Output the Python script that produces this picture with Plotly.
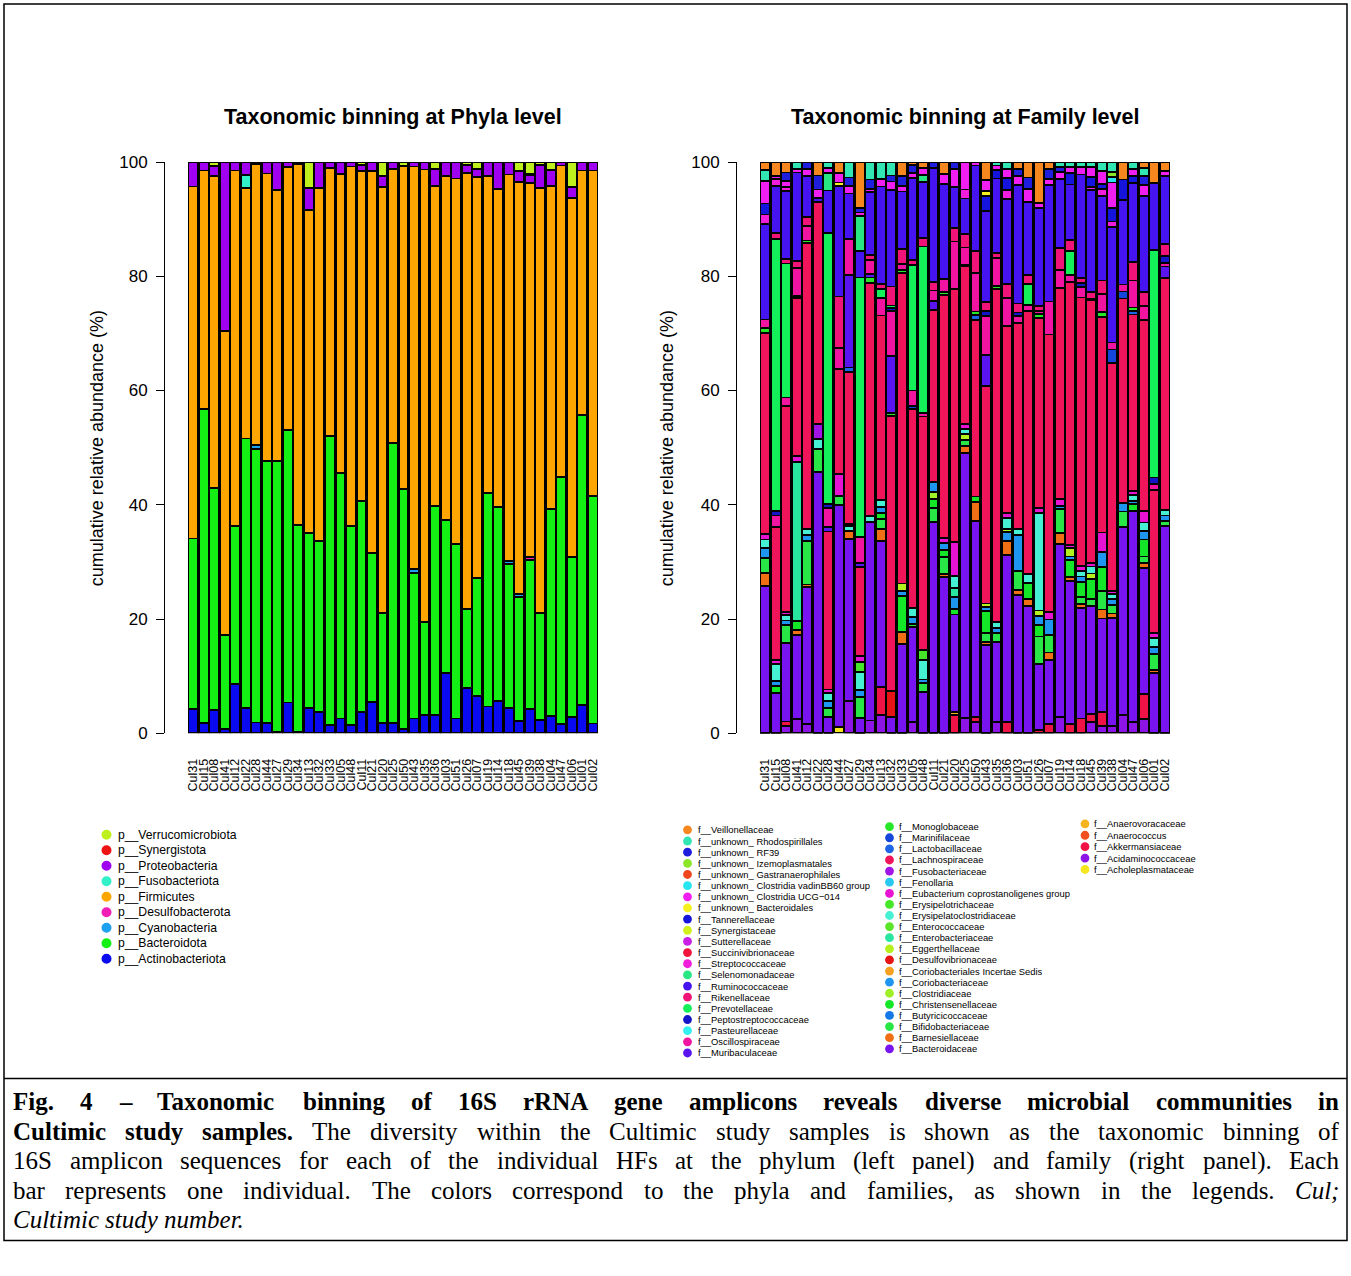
import plotly.graph_objects as go

W, H = 1351, 1276

# vertical calibration of the page: rendered_y = SY_OFF + SY_SCALE * y
SY_OFF, SY_SCALE = 9.06, 0.9846


def px(x):
    return x / W


def py(y):
    return 1 - ((y - SY_OFF) / SY_SCALE) / H


# ---------------------------------------------------------------- data
samples = ["Cul31", "Cul15", "Cul08", "Cul41", "Cul12", "Cul22", "Cul28", "Cul44", "Cul27", "Cul29",
           "Cul34", "Cul13", "Cul32", "Cul33", "Cul05", "Cul48", "Cul11", "Cul21", "Cul20", "Cul25",
           "Cul50", "Cul43", "Cul35", "Cul36", "Cul03", "Cul51", "Cul26", "Cul07", "Cul19", "Cul14",
           "Cul18", "Cul45", "Cul39", "Cul38", "Cul04", "Cul47", "Cul06", "Cul01", "Cul02"]

# ---- phyla (%), one value per sample
p_Actinobacteriota = [4.3, 1.8, 4.1, 0.8, 8.7, 4.5, 1.9, 1.8, 0.2, 5.4,
                      0.2, 4.5, 3.7, 1.5, 2.6, 1.5, 3.8, 5.5, 1.8, 1.8,
                      0.8, 2.6, 3.2, 3.2, 10.6, 2.6, 7.9, 6.5, 4.7, 5.7,
                      4.5, 2.2, 4.2, 2.3, 3.0, 1.6, 2.8, 5.0, 1.7]
p_Bacteroidota = [29.8, 54.9, 38.8, 16.4, 27.6, 47.1, 47.9, 45.9, 47.4, 47.7,
                  36.3, 30.6, 29.9, 50.5, 43.0, 34.8, 36.8, 26.1, 19.2, 49.0,
                  41.9, 25.4, 16.3, 36.6, 26.8, 30.5, 13.8, 20.7, 37.3, 33.9,
                  25.1, 21.7, 26.2, 18.8, 36.2, 43.3, 28.1, 50.7, 39.8]
p_Cyanobacteria = [0, 0, 0, 0, 0, 0, 0.6, 0, 0, 0,
                   0, 0, 0, 0, 0, 0, 0, 0, 0, 0,
                   0, 0.7, 0, 0, 0, 0, 0, 0, 0, 0,
                   0.5, 0.5, 0, 0, 0, 0, 0, 0, 0]
p_Desulfobacterota = [0, 0, 0, 0, 0, 0, 0, 0, 0, 0,
                      0, 0, 0, 0, 0, 0, 0, 0, 0, 0,
                      0, 0, 0, 0, 0, 0, 0, 0, 0, 0,
                      0, 0, 0.4, 0, 0, 0, 0, 0, 0]
p_Firmicutes = [61.6, 41.8, 54.6, 53.2, 62.2, 43.8, 49.2, 50.3, 47.5, 46.0,
                63.2, 56.5, 61.9, 46.9, 52.3, 62.9, 57.8, 66.8, 74.6, 48.0,
                56.6, 70.5, 79.2, 56.0, 60.1, 64.0, 76.4, 70.2, 55.5, 55.7,
                67.7, 72.1, 65.5, 74.4, 56.6, 54.5, 62.8, 42.8, 57.0]
p_Fusobacteriota = [0, 0, 0, 0, 0, 2.3, 0, 0, 0, 0,
                    0, 0, 0, 0, 0, 0, 0, 0, 0, 0,
                    0, 0, 0, 0, 0, 0, 0, 0, 0, 0,
                    0, 0, 0, 0, 0, 0, 0, 0, 0]
p_Proteobacteria = [4.3, 1.5, 1.8, 29.6, 1.5, 2.3, 0.4, 2.0, 4.9, 0.9,
                    0.3, 3.8, 4.5, 1.1, 2.1, 0.8, 1.1, 1.6, 1.9, 1.2,
                    0, 0.8, 1.3, 3.0, 2.5, 2.9, 1.4, 1.4, 2.5, 4.7,
                    2.2, 1.9, 1.4, 4.0, 2.8, 0.6, 1.9, 1.5, 1.5]
p_Synergistota = [0, 0, 0, 0, 0, 0, 0, 0, 0, 0,
                  0, 0, 0, 0, 0, 0, 0, 0, 0, 0,
                  0, 0, 0, 0, 0, 0, 0, 0, 0, 0,
                  0, 0, 0.3, 0, 0, 0, 0, 0, 0]
p_Verrucomicrobiota = [0, 0, 0.7, 0, 0, 0, 0, 0, 0, 0,
                       0, 4.6, 0, 0, 0, 0, 0.5, 0, 2.5, 0,
                       0.7, 0, 0, 1.2, 0, 0, 0.5, 1.2, 0, 0,
                       0, 1.6, 2.0, 0.5, 1.4, 0, 4.4, 0, 0]

# legend order (top -> bottom); stacking is the reverse
phyla_names = ["p__Verrucomicrobiota", "p__Synergistota", "p__Proteobacteria", "p__Fusobacteriota",
               "p__Firmicutes", "p__Desulfobacterota", "p__Cyanobacteria", "p__Bacteroidota",
               "p__Actinobacteriota"]
phyla_values = [p_Verrucomicrobiota, p_Synergistota, p_Proteobacteria, p_Fusobacteriota,
                p_Firmicutes, p_Desulfobacterota, p_Cyanobacteria, p_Bacteroidota,
                p_Actinobacteriota]
phyla_colors = ["#BEF01E", "#EE1414", "#A000F0", "#32F0C8", "#FFA500", "#F01EB4", "#1EA0F0",
                "#14F014", "#0A0AF0"]

# ---- families (%), one value per sample
f_Veillonellaceae = [1.4, 2.4, 1.8, 0, 0, 2.3, 0, 1.8, 0, 7.6,
                     0, 0, 0, 2.3, 0.5, 1.0, 0, 2.0, 0, 0,
                     0, 2.9, 0, 0, 1.2, 2.6, 6.9, 1.2, 0, 0,
                     0, 0, 0, 0, 3.0, 0, 1.0, 3.5, 1.5]
f_unk_Rhodospirillales = [1.9, 0, 0, 1.2, 0, 0, 1.0, 0, 2.6, 0,
                          3.0, 2.9, 2.3, 0, 0, 0, 0, 0, 0, 0,
                          0, 0, 0.6, 1.2, 0, 0, 0, 0, 0.9, 0.9,
                          0.9, 0.9, 1.5, 1.7, 0, 1.2, 1.5, 0, 0]
f_unk_RF39 = [0, 0, 1.5, 0, 1.2, 2.4, 0, 0, 1.4, 0.8,
              1.6, 0, 1.0, 1.7, 1.3, 0, 1.0, 0, 1.2, 0,
              0, 0, 0, 0, 1.2, 2.0, 0, 1.7, 0.8, 0,
              0, 0, 0, 0, 0, 0, 1.5, 0, 0]
f_unk_Izemoplasmatales = [0, 0, 0, 0, 0, 0, 0, 0, 0, 0,
                          0, 0, 0, 0, 0, 0, 0, 0, 0, 0,
                          0, 0, 0, 0, 0, 0, 0, 0, 0, 0,
                          0, 0, 0, 0.9, 0, 0, 0, 0, 0]
f_unk_Gastranaerophilales = [0, 0, 0, 0, 0, 0, 0, 0, 0, 0,
                             0, 0, 0, 0, 0, 0, 0, 0, 0, 0,
                             0, 0, 0, 0, 0, 0, 0, 0, 0, 0,
                             0, 0, 0, 0, 0, 0, 0, 0, 0]
f_unk_vadinBB60 = [0, 0, 0, 0, 0, 0, 0, 0, 0, 0,
                   0, 0, 0, 0, 0, 0, 0, 0, 0, 0,
                   0, 0, 0, 0, 0, 0, 0, 0, 0, 0,
                   0, 0, 0, 0.9, 0, 0, 0, 0, 0]
f_unk_UCG014 = [3.8, 0.6, 1.0, 0.6, 1.2, 1.4, 0.9, 1.6, 1.3, 0,
                0.6, 1.2, 1.5, 0.9, 0.9, 1.2, 0, 1.8, 3.0, 4.6,
                0.6, 1.8, 0.7, 1.5, 1.5, 2.2, 0.9, 0.9, 1.2, 0.9,
                1.2, 1.7, 2.1, 4.4, 0, 1.2, 2.0, 0, 0.9]
f_unk_Bacteroidales = [0, 0, 0, 0, 0, 0, 0, 0.6, 0, 0,
                       0, 0, 0, 0, 0, 0, 0, 0, 0, 0,
                       0, 0.9, 0, 0, 0, 0, 0, 0, 0, 0,
                       0, 0, 0, 0, 0, 0, 0, 0, 0]
f_Tannerellaceae = [1.9, 0, 0, 0, 0, 0, 0, 0, 0, 0,
                    0, 0, 0, 0, 0, 0, 0, 0, 0, 0,
                    0, 2.4, 1.5, 2.0, 0, 0, 0, 0, 0, 2.0,
                    0, 1.7, 0.9, 2.3, 3.5, 1.2, 0, 0, 0]
f_Synergistaceae = [0, 0, 0, 0, 0, 0, 0, 0, 0, 0,
                    0, 0, 0, 0, 0, 0, 0, 0, 0, 0,
                    0, 0, 0, 0, 0, 0, 0, 0, 0, 0,
                    0, 0, 0, 0, 0, 0, 0, 0, 0]
f_Sutterellaceae = [0, 0, 0, 0, 0, 0, 0, 0, 0, 0,
                    0, 0, 0, 0, 0, 0, 0, 0, 0, 0,
                    0, 0, 0, 0, 0, 0, 0, 0, 0, 0,
                    0, 0, 0, 0, 0, 0, 0, 0, 0]
f_Succinivibrionaceae = [0, 0, 0, 0, 0, 0, 0, 0, 0, 0,
                         0, 0, 0, 0, 0, 0, 0, 0, 0, 0,
                         0, 0, 0, 0, 0, 0, 0, 0, 0, 0,
                         0, 0, 0, 0, 0, 0, 0, 0, 0]
f_Streptococcaceae = [1.6, 1.2, 0.6, 0, 0, 0, 0, 0, 0, 0.6,
                      0, 0, 0, 0, 0, 0, 0, 0, 0, 1.5,
                      0, 0, 0, 1.5, 0, 0, 0, 0, 0, 0,
                      0, 0.6, 1.2, 0.9, 0, 0, 0, 0, 0]
f_Selenomonadaceae = [0, 0, 0, 0, 0, 0, 2.9, 0, 0, 5.8,
                      0, 0, 0, 0, 0, 1.2, 0, 0, 0, 0,
                      0, 0, 0, 0, 0, 0, 0, 0, 0, 0,
                      0, 0, 0, 0, 0, 0, 0, 0, 0]
f_Ruminococcaceae = [16.4, 8.1, 11.6, 15.1, 6.9, 0.7, 7.2, 18.4, 7.6, 4.4,
                     10.8, 16.3, 16.3, 9.5, 13.9, 9.3, 19.3, 16.3, 6.7, 5.9,
                     14.4, 14.9, 12.6, 14.1, 19.9, 12.2, 16.6, 19.5, 11.9, 9.4,
                     17.5, 17.6, 14.0, 19.8, 14.5, 13.7, 17.0, 11.4, 11.7]
f_Rikenellaceae = [0, 1.0, 0.8, 1.2, 1.5, 0, 0, 8.5, 0, 0,
                   0.9, 0.9, 3.2, 2.5, 0.9, 1.4, 1.5, 0, 2.3, 2.3,
                   3.8, 1.6, 0.8, 2.3, 1.5, 1.6, 0.8, 0, 3.8, 1.8,
                   0.9, 1.2, 2.3, 0, 0, 3.2, 2.5, 0, 2.0]
f_Prevotellaceae = [0, 46.9, 22.8, 0, 0, 0, 45.8, 0, 0, 43.1,
                    0, 1.5, 0.5, 0, 21.3, 27.8, 0, 0, 0, 0,
                    0, 0, 0, 0, 0, 3.5, 0, 0, 0, 4.1,
                    0, 0, 0, 0, 0, 0, 0, 38.6, 0]
f_Peptostreptococcaceae = [0, 0.8, 0, 0, 0, 0, 0.6, 0, 0, 0,
                           0, 0, 0.5, 0, 0, 0, 0, 0, 0, 0,
                           0, 0.8, 0, 0, 0.6, 0, 0, 0, 0, 0,
                           0.6, 0, 0, 0, 0, 0, 0, 1.1, 1.2]
f_Pasteurellaceae = [0, 0, 0, 0, 0, 0, 0, 0, 0, 0,
                     0, 0, 0, 0, 0, 0, 0, 0, 0, 0,
                     0, 0, 0, 0, 0, 0, 0, 0, 0, 0,
                     0, 0, 0, 0, 0, 0, 0, 0, 0]
f_Oscillospiraceae = [1.5, 2.0, 1.5, 4.7, 2.5, 0, 3.2, 3.5, 6.1, 4.4,
                      2.4, 2.9, 7.6, 1.0, 2.6, 0.6, 1.8, 2.3, 7.9, 2.9,
                      6.5, 6.4, 4.7, 4.7, 1.2, 1.0, 0.6, 5.5, 3.0, 1.2,
                      1.8, 0, 2.9, 1.2, 1.2, 4.7, 2.5, 1.0, 0.6]
f_Muribaculaceae = [0, 0, 0, 0, 0, 0, 0.8, 0, 15.5, 0.7,
                    0.6, 0, 9.6, 0, 0, 0, 1.5, 0, 0, 0,
                    0, 5.0, 0, 0, 0, 0, 0, 0, 0, 0,
                    0, 0, 0, 0, 0, 0, 0, 0, 2.0]
f_Monoglobaceae = [0.8, 0, 0, 0.4, 0.4, 0, 0, 0, 0, 0,
                   0.9, 0, 0.6, 0.6, 0, 0, 0, 0.5, 0, 0.3,
                   0.6, 0, 0.6, 0, 0, 0, 0.6, 0, 0, 0,
                   0, 0.3, 0.9, 0, 0, 0.6, 0, 0, 0]
f_Marinifilaceae = [0, 0, 0, 0, 0, 0, 0, 0, 0, 0,
                    0, 0, 0, 0, 0.6, 0, 0, 0, 0, 0,
                    0, 0, 0, 0, 0, 0, 0, 0, 0, 0,
                    0, 0, 0, 2.3, 1.2, 0, 0, 0, 0]
f_Lactobacillaceae = [0, 0, 0, 0, 0, 0, 0, 0, 0.7, 0,
                      0, 0, 0, 0, 0, 0, 0, 0, 0, 0,
                      0.9, 0, 0, 0, 0, 0, 0, 0, 0, 0,
                      0, 0, 0, 0, 0, 0.6, 0, 0, 0]
f_Lachnospiraceae = [34.4, 23.0, 35.0, 26.9, 48.5, 38.0, 26.7, 17.5, 25.5, 14.7,
                     40.3, 30.9, 46.5, 51.6, 33.7, 39.0, 29.2, 41.8, 42.0, 26.3,
                     29.8, 35.7, 56.3, 31.0, 34.6, 44.3, 32.2, 46.4, 36.3, 44.4,
                     45.4, 45.5, 35.8, 39.0, 35.0, 30.5, 33.8, 24.3, 39.7]
f_Fusobacteriaceae = [0, 0, 0, 0, 0, 2.5, 0, 0, 0, 0,
                      0, 0, 0, 0, 0, 0, 0, 0, 0, 0,
                      0, 0, 0, 0, 0, 0, 0, 0, 0, 0,
                      0, 0, 0, 0, 0, 0, 0, 0, 0]
f_Fenollaria = [0, 0, 0, 0, 0, 0, 0, 0, 0, 0,
                0, 0, 0, 0, 0, 0, 0, 0, 0, 0,
                0, 0, 0, 0, 0, 0, 0, 0, 0, 0,
                0, 0, 0, 0, 0, 0, 0, 0, 0]
f_Eubacterium = [1.0, 0.6, 0.5, 1.0, 0, 0, 0.6, 3.7, 0.4, 1.0,
                 0, 0, 0, 0, 0, 0, 0, 0.9, 5.6, 0.9,
                 0, 0, 0, 0.8, 0, 0, 0.9, 1.2, 1.2, 0.5,
                 0.9, 0.6, 3.2, 0.6, 0, 0.8, 2.0, 0.9, 0]
f_Erysipelotrichaceae = [0, 0, 0, 0, 0, 0, 0, 0, 0, 1.7,
                         0, 0, 0, 0, 0, 1.7, 0, 0, 0, 0,
                         0, 0, 0, 0, 0, 0, 0, 0, 0, 0,
                         0, 0, 0, 0, 0, 0, 0, 0, 0]
f_Erysipelatoclostridiaceae = [1.5, 3.0, 1.0, 0, 1.0, 1.7, 1.3, 0, 0.8, 3.0,
                               1.0, 1.2, 0, 0, 1.5, 3.2, 0, 0, 2.0, 0.8,
                               0, 0, 1.0, 1.8, 1.0, 1.5, 16.5, 0, 0, 0,
                               0.9, 1.2, 0, 0.8, 0, 1.0, 1.5, 1.5, 0.9]
f_Enterococcaceae = [0, 0, 0, 0, 0, 0, 0, 0, 0, 0,
                     0, 0, 0, 0, 0, 0, 0, 0, 0, 0,
                     0, 0, 0, 0, 0, 0, 0, 0, 0, 0,
                     0, 0, 0, 0, 0, 0, 0, 0, 0]
f_Enterobacteriaceae = [0, 0, 0, 27.2, 0, 0, 0, 0, 0, 0,
                        0, 0, 0, 0, 0, 0, 0, 0, 1.5, 0,
                        0, 0, 0, 0, 0, 0, 0, 0, 0, 0,
                        0, 0, 0, 0, 0, 0, 0, 0, 0]
f_Eggerthellaceae = [0, 0, 0, 0, 0, 0, 0, 0, 0, 0,
                     0, 0, 0, 1.2, 0, 0, 0, 0, 0, 1.0,
                     0, 0.6, 0, 0.6, 0, 0, 0.9, 0, 0, 1.5,
                     0, 0.9, 0, 0, 0, 0, 0, 0, 0]
f_Desulfovibrionaceae = [0, 0, 0, 0, 0, 0, 0, 0, 0, 0,
                         0, 0, 4.4, 0, 0, 0, 0, 0, 0, 0,
                         0, 0, 0, 0, 0, 0, 0, 0, 0, 0,
                         0, 0, 0, 0, 0, 0, 0, 0, 0]
f_Coriobacteriales_IS = [0, 0, 0, 0, 0, 0, 0, 0, 0, 0,
                         0, 0, 0, 0, 0, 0, 0, 0, 0, 0,
                         0, 0, 0, 0, 0, 0, 0, 0, 0, 0,
                         0, 0, 0, 0, 0, 0, 0, 0, 0]
f_Coriobacteriaceae = [1.7, 0.8, 0.8, 0, 1.0, 0, 1.2, 0, 0, 1.2,
                       0, 1.0, 0, 0.9, 1.2, 0.6, 1.7, 1.2, 2.0, 0,
                       0, 0.6, 0.9, 1.5, 6.1, 0, 1.5, 2.6, 0.6, 0.6,
                       0.9, 0, 2.6, 1.0, 1.5, 0.5, 1.5, 1.2, 0.9]
f_Clostridiaceae = [0, 0, 0, 0, 0, 0, 0, 0, 0, 0,
                    0, 0, 0, 0, 0, 0, 1.2, 0, 0, 0,
                    0, 0, 0, 0, 0, 0, 0, 0, 0, 0,
                    0, 0, 0, 0, 0, 0, 0, 0, 0]
f_Christensenellaceae = [0, 1.2, 0, 1.5, 0, 0, 0, 0, 0, 0,
                         0, 1.0, 0, 5.9, 0, 0, 1.5, 1.2, 0.9, 0,
                         0.9, 3.6, 0, 0, 0, 2.7, 2.0, 0, 0, 2.9,
                         2.6, 3.5, 4.0, 0, 0, 1.2, 3.0, 0, 0]
f_Butyricicoccaceae = [0, 0, 0, 0, 0, 0, 0, 0, 0, 0,
                       0, 0, 0, 0, 0, 0, 0, 0, 0, 0,
                       0, 0, 0, 0, 0, 0, 0, 0, 0, 0,
                       0, 0, 0, 0, 0, 0, 0, 0, 0]
f_Bifidobacteriaceae = [2.5, 0, 3.0, 0, 7.4, 4.0, 1.5, 1.5, 0, 3.5,
                        0, 1.7, 0, 0, 0.6, 1.5, 2.3, 2.9, 0, 1.0,
                        0, 1.5, 1.5, 0, 3.2, 0, 4.7, 2.9, 4.1, 0,
                        1.2, 1.2, 3.0, 1.5, 2.7, 0, 1.2, 2.6, 0.9]
f_Barnesiellaceae = [2.3, 0, 0, 0.9, 0.4, 0, 0, 0, 1.4, 0,
                     0, 2.0, 0, 2.0, 0, 0, 0, 0.5, 0, 1.2,
                     3.2, 0.5, 0, 2.3, 0.9, 1.2, 0, 1.2, 1.8, 0.6,
                     0.6, 0, 1.5, 0.8, 0, 0, 0.9, 0.6, 0]
f_Bacteroidaceae = [25.2, 7.0, 13.4, 14.2, 23.2, 44.6, 2.8, 37.0, 27.2, 2.5,
                    34.2, 24.4, 2.8, 14.9, 16.1, 6.9, 35.9, 26.9, 16.1, 44.4,
                    33.3, 14.5, 13.5, 27.7, 23.2, 21.5, 11.1, 10.8, 29.8, 24.2,
                    18.7, 18.7, 15.6, 18.5, 32.2, 36.5, 22.2, 10.2, 35.5]
f_Anaerovoracaceae = [0, 0, 0, 0, 0, 0, 0, 0, 0, 0,
                      0, 0, 0, 0, 0, 0, 0, 0, 0.6, 0,
                      0, 0, 0, 0, 0, 0, 0, 0, 0, 0,
                      0, 0, 0, 0, 0, 0, 0, 0, 0]
f_Anaerococcus = [0, 0, 0, 0, 0, 0, 0, 0, 0, 0,
                  0, 0, 0, 0, 0, 0, 0, 0, 0, 0,
                  0, 0, 0, 0, 0, 0, 0, 0, 0, 0,
                  0, 0, 0, 0, 0, 0, 0, 0, 0]
f_Akkermansiaceae = [0, 0, 0.7, 0, 0, 0, 0, 0, 0, 0,
                     0, 4.7, 0, 0, 0, 0, 0, 0, 3.0, 0,
                     0.8, 0, 0, 1.9, 0, 0, 0.6, 1.5, 0, 1.6,
                     2.5, 1.5, 2.3, 0, 0, 0, 4.4, 0, 0]
f_Acidaminococcaceae = [0, 0, 1.3, 2.5, 1.6, 0, 0, 0, 5.4, 0,
                        2.2, 3.1, 0, 0, 1.9, 0, 0, 0, 0, 2.5,
                        1.9, 0, 1.9, 0, 0, 0, 0, 0, 2.8, 0,
                        0, 1.9, 1.2, 1.2, 3.1, 2.0, 2.6, 0, 0]
f_Acholeplasmataceae = [0, 0, 0, 0, 0, 0, 0, 1.0, 0, 0,
                        0, 0, 0, 0, 0, 0, 0, 0, 0, 0,
                        0, 0, 0, 0, 0, 0, 0, 0, 0, 0,
                        0, 0, 0, 0, 0, 0, 0, 0, 0]

# legend order (top -> bottom, column by column); stacking is the reverse
family_names = [
    "f__Veillonellaceae", "f__unknown_ Rhodospirillales", "f__unknown_ RF39",
    "f__unknown_ Izemoplasmatales", "f__unknown_ Gastranaerophilales",
    "f__unknown_ Clostridia vadinBB60 group", "f__unknown_ Clostridia UCG\u2212014",
    "f__unknown_ Bacteroidales", "f__Tannerellaceae", "f__Synergistaceae", "f__Sutterellaceae",
    "f__Succinivibrionaceae", "f__Streptococcaceae", "f__Selenomonadaceae", "f__Ruminococcaceae",
    "f__Rikenellaceae", "f__Prevotellaceae", "f__Peptostreptococcaceae", "f__Pasteurellaceae",
    "f__Oscillospiraceae", "f__Muribaculaceae",
    "f__Monoglobaceae", "f__Marinifilaceae", "f__Lactobacillaceae", "f__Lachnospiraceae",
    "f__Fusobacteriaceae", "f__Fenollaria", "f__Eubacterium coprostanoligenes group",
    "f__Erysipelotrichaceae", "f__Erysipelatoclostridiaceae", "f__Enterococcaceae",
    "f__Enterobacteriaceae", "f__Eggerthellaceae", "f__Desulfovibrionaceae",
    "f__Coriobacteriales Incertae Sedis", "f__Coriobacteriaceae", "f__Clostridiaceae",
    "f__Christensenellaceae", "f__Butyricicoccaceae", "f__Bifidobacteriaceae",
    "f__Barnesiellaceae", "f__Bacteroidaceae",
    "f__Anaerovoracaceae", "f__Anaerococcus", "f__Akkermansiaceae", "f__Acidaminococcaceae",
    "f__Acholeplasmataceae"]
family_values = [
    f_Veillonellaceae, f_unk_Rhodospirillales, f_unk_RF39, f_unk_Izemoplasmatales,
    f_unk_Gastranaerophilales, f_unk_vadinBB60, f_unk_UCG014, f_unk_Bacteroidales,
    f_Tannerellaceae, f_Synergistaceae, f_Sutterellaceae, f_Succinivibrionaceae,
    f_Streptococcaceae, f_Selenomonadaceae, f_Ruminococcaceae, f_Rikenellaceae,
    f_Prevotellaceae, f_Peptostreptococcaceae, f_Pasteurellaceae, f_Oscillospiraceae,
    f_Muribaculaceae,
    f_Monoglobaceae, f_Marinifilaceae, f_Lactobacillaceae, f_Lachnospiraceae,
    f_Fusobacteriaceae, f_Fenollaria, f_Eubacterium, f_Erysipelotrichaceae,
    f_Erysipelatoclostridiaceae, f_Enterococcaceae, f_Enterobacteriaceae, f_Eggerthellaceae,
    f_Desulfovibrionaceae, f_Coriobacteriales_IS, f_Coriobacteriaceae, f_Clostridiaceae,
    f_Christensenellaceae, f_Butyricicoccaceae, f_Bifidobacteriaceae, f_Barnesiellaceae,
    f_Bacteroidaceae,
    f_Anaerovoracaceae, f_Anaerococcus, f_Akkermansiaceae, f_Acidaminococcaceae,
    f_Acholeplasmataceae]
family_colors = [
    "#F5871E", "#32E6B4", "#1E1EDC", "#8CE628", "#F0461E", "#28E6F0", "#F01EF0", "#F5F01E",
    "#1414DC", "#D2F01E", "#C81EE6", "#F0143C", "#F01EDC", "#28E682", "#4614F0", "#F01478",
    "#14F05A", "#1414C8", "#32F0F0", "#F014A0", "#5A14F0",
    "#28E628", "#1446DC", "#1E64E6", "#F0145A", "#A014E6", "#28C8F0", "#E614D2", "#46E628",
    "#46F0D2", "#5AE628", "#28E6A0", "#B4F01E", "#E61414", "#F5A01E", "#1E96F0", "#A0F028",
    "#14E628", "#1478E6", "#28E646", "#F06E14", "#7814F0",
    "#F5B41E", "#F0501E", "#F01446", "#8C14E6", "#F5E61E"]

for lst in phyla_values + family_values:
    assert len(lst) == len(samples)


def normalise(series_list):
    totals = [sum(s[i] for s in series_list) for i in range(len(samples))]
    return [[v / t * 100 for v, t in zip(s, totals)] for s in series_list]


phyla_norm = normalise(phyla_values)
family_norm = normalise(family_values)

# ---------------------------------------------------------------- figure
fig = go.Figure()
for name, vals, col in reversed(list(zip(phyla_names, phyla_norm, phyla_colors))):
    fig.add_trace(go.Bar(x=samples, y=vals, name=name, xaxis="x", yaxis="y",
                         marker=dict(color=col, line=dict(color="black", width=1.8)),
                         showlegend=False))
for name, vals, col in reversed(list(zip(family_names, family_norm, family_colors))):
    fig.add_trace(go.Bar(x=samples, y=vals, name=name, xaxis="x2", yaxis="y2",
                         marker=dict(color=col, line=dict(color="black", width=1.8)),
                         showlegend=False))

# geometry (pixels of the 1351 x 1276 page)
PITCH = 410 / 39
AX_L, AX_R = 165, 737          # y-axis line positions
BAR0 = 23                      # gap between axis line and first bar
PLOT_W = 435
TOP, BOT = 162, 733
r0 = -0.5 - BAR0 / PITCH
r1 = r0 + PLOT_W / PITCH

xcommon = dict(type="category", range=[r0, r1], tickmode="array", tickvals=samples,
               ticktext=samples, tickangle=-90, tickfont=dict(size=12.5, color="black"),
               showline=False, showgrid=False, zeroline=False, ticks="",
               ticklabelstandoff=22, fixedrange=True)
ycommon = dict(range=[0, 100], tickmode="array", tickvals=[0, 20, 40, 60, 80, 100],
               showline=True, linecolor="black", linewidth=1, ticks="outside", ticklen=8,
               tickcolor="black", tickwidth=1, tickfont=dict(size=17, color="black"),
               showgrid=False, zeroline=False, ticklabelstandoff=5, fixedrange=True)

fig.update_layout(
    width=W, height=H, autosize=False, margin=dict(l=0, r=0, t=0, b=0),
    paper_bgcolor="white", plot_bgcolor="white",
    barmode="stack", bargap=0.08,
    font=dict(family="Liberation Sans, Arial, sans-serif", color="black"),
    xaxis=dict(domain=[px(AX_L), px(AX_L + PLOT_W)], anchor="y", **xcommon),
    yaxis=dict(domain=[py(BOT), py(TOP)], anchor="x", **ycommon),
    xaxis2=dict(domain=[px(AX_R), px(AX_R + PLOT_W)], anchor="y2", **xcommon),
    yaxis2=dict(domain=[py(BOT), py(TOP)], anchor="x2", **ycommon),
)

shapes = []
annotations = []

# frame and caption separator
shapes.append(dict(type="rect", xref="paper", yref="paper", x0=px(4), x1=px(1347),
                   y0=py(1240), y1=py(4), line=dict(color="black", width=1.5)))
shapes.append(dict(type="line", xref="paper", yref="paper", x0=px(4), x1=px(1347),
                   y0=py(1078), y1=py(1078), line=dict(color="black", width=1.5)))

# titles
for txt, cx in [("Taxonomic binning at Phyla level", 393),
                ("Taxonomic binning at Family level", 965)]:
    annotations.append(dict(text=txt, x=px(cx), y=py(117), xref="paper", yref="paper",
                            xanchor="center", yanchor="middle", showarrow=False,
                            font=dict(size=21.5, weight="bold", color="black")))
for cx in (97, 667):
    annotations.append(dict(text="cumulative relative abundance (%)", x=px(cx), y=py(448),
                            xref="paper", yref="paper", textangle=-90, xanchor="center",
                            yanchor="middle", showarrow=False,
                            font=dict(size=18, color="black")))


def legend_block(names, colors, cx, tx, y0, dy, r, fsize):
    for i, (n, c) in enumerate(zip(names, colors)):
        cy = y0 + i * dy
        shapes.append(dict(type="circle", xref="paper", yref="paper",
                           x0=px(cx - r), x1=px(cx + r), y0=py(cy + r), y1=py(cy - r),
                           fillcolor=c, line=dict(width=0)))
        annotations.append(dict(text=n, x=px(tx), y=py(cy), xref="paper", yref="paper",
                                xanchor="left", yanchor="middle", showarrow=False,
                                borderpad=0, font=dict(size=fsize, color="black")))


legend_block(phyla_names, phyla_colors, 106.5, 117, 834.3, 15.5, 5.0, 12.2)
legend_block(family_names[:21], family_colors[:21], 687.5, 697, 829.5, 11.15, 4.4, 9.4)
legend_block(family_names[21:42], family_colors[21:42], 889.5, 898.5, 826.3, 11.1, 4.4, 9.4)
legend_block(family_names[42:], family_colors[42:], 1085, 1093, 823.5, 11.4, 4.4, 9.4)

# ---------------------------------------------------------------- caption (justified)
REG = {" ": 250, "(": 333, ")": 333, ",": 250, ".": 250, ";": 278, "-": 333, "\u2013": 500,
       "A": 722, "C": 667, "E": 611, "F": 556, "H": 722, "N": 722, "R": 667, "S": 556,
       "T": 611, "a": 444, "b": 500, "c": 444, "d": 500, "e": 444, "f": 333, "g": 500,
       "h": 500, "i": 278, "l": 278, "m": 778, "n": 500, "o": 500, "p": 500, "q": 500,
       "r": 333, "s": 389, "t": 278, "u": 500, "v": 500, "w": 722, "x": 500, "y": 500}
BOLD = {" ": 250, ".": 250, "\u2013": 500, "A": 722, "C": 722, "F": 611, "N": 722, "R": 722,
        "S": 556, "T": 667, "a": 500, "b": 556, "c": 444, "d": 556, "e": 444, "f": 333,
        "g": 500, "h": 556, "i": 278, "l": 278, "m": 833, "n": 556, "o": 500, "p": 556,
        "r": 444, "s": 389, "t": 333, "u": 556, "v": 500, "x": 500, "y": 500}
ITAL = {" ": 250, ".": 250, ";": 333, "C": 667, "a": 500, "b": 500, "c": 444, "d": 500,
        "e": 444, "i": 278, "l": 278, "m": 722, "n": 500, "r": 389, "s": 389, "t": 278,
        "u": 500, "y": 444}
METRICS = {"b": BOLD, "r": REG, "i": ITAL}
CAP_SIZE = 25
CAP_L, CAP_R = 12, 1338


def text_w(word, style):
    table = METRICS[style]
    return sum(table.get(ch, 500) for ch in word) * CAP_SIZE / 1000


caption_lines = [
    ([("Fig. 4 \u2013 Taxonomic binning of 16S rRNA gene amplicons reveals diverse microbial "
       "communities in", "b")], True),
    ([("Cultimic study samples.", "b"),
      ("The diversity within the Cultimic study samples is shown as the taxonomic binning of",
       "r")], True),
    ([("16S amplicon sequences for each of the individual HFs at the phylum (left panel) and "
       "family (right panel). Each", "r")], True),
    ([("bar represents one individual. The colors correspond to the phyla and families, as "
       "shown in the legends.", "r"), ("Cul;", "i")], True),
    ([("Cultimic study number.", "i")], False),
]

for li, (runs, justify) in enumerate(caption_lines):
    words = [(w, st) for txt, st in runs for w in txt.split(" ")]
    natural = sum(text_w(w, st) for w, st in words)
    if justify and len(words) > 1:
        gap = (CAP_R - CAP_L - natural) / (len(words) - 1)
    else:
        gap = 250 * CAP_SIZE / 1000
    xcur = CAP_L
    cy = 1101 + li * 29.5
    for w, st in words:
        annotations.append(dict(
            text=w, x=px(xcur), y=py(cy), xref="paper", yref="paper", xanchor="left",
            yanchor="middle", showarrow=False, borderpad=0,
            font=dict(family="Liberation Serif, Times New Roman, serif", size=CAP_SIZE,
                      color="black", weight="bold" if st == "b" else "normal",
                      style="italic" if st == "i" else "normal")))
        xcur += text_w(w, st) + gap

fig.update_layout(shapes=shapes, annotations=annotations)

fig.write_html("out.html", include_plotlyjs=True, full_html=True,
               config={"displayModeBar": False, "staticPlot": True},
               post_script="document.body.style.margin='0';document.body.style.overflow='hidden';")
